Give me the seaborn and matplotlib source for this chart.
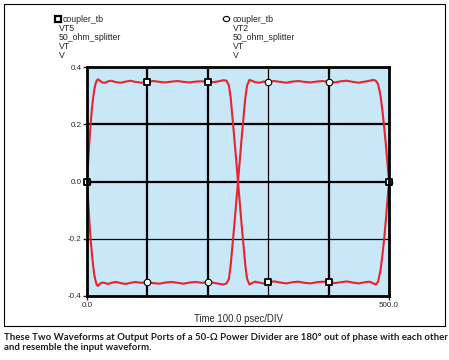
import numpy as np
import pandas as pd
import seaborn as sns
import matplotlib.pyplot as plt
from matplotlib.patches import Rectangle

# waveform samples (time in psec, volts)
t = [0, 2, 4, 6, 8, 10, 12, 14, 16, 18, 21, 25, 30, 35, 40, 48, 56, 64, 72, 80,
     90, 100, 110, 120, 130, 140, 150, 160, 170, 180, 190, 200, 210, 218, 226,
     231, 235, 238, 241, 244, 247, 250, 253, 256, 259, 262, 265, 269, 273, 278,
     285, 292, 300, 310, 320, 330, 340, 350, 360, 370, 380, 390, 400, 410, 420,
     430, 440, 450, 460, 468, 474, 478, 482, 486, 489, 492, 495, 498, 500]

vt5 = [0.0, 0.07, 0.14, 0.2, 0.25, 0.29, 0.32, 0.34, 0.352, 0.357, 0.353, 0.346,
       0.345, 0.350, 0.352, 0.347, 0.345, 0.349, 0.352, 0.348, 0.345, 0.348,
       0.351, 0.348, 0.346, 0.349, 0.351, 0.348, 0.346, 0.349, 0.350, 0.348,
       0.347, 0.350, 0.354, 0.352, 0.335, 0.29, 0.22, 0.15, 0.075, 0.0, -0.075,
       -0.15, -0.22, -0.29, -0.34, -0.36, -0.355, -0.35, -0.353, -0.356, -0.352,
       -0.349, -0.353, -0.356, -0.352, -0.35, -0.354, -0.356, -0.352, -0.35,
       -0.352, -0.355, -0.352, -0.349, -0.353, -0.356, -0.352, -0.35, -0.356,
       -0.36, -0.35, -0.31, -0.26, -0.2, -0.13, -0.05, 0.0]

vt2 = [0.0, -0.07, -0.14, -0.2, -0.25, -0.29, -0.325, -0.345, -0.36, -0.365,
       -0.358, -0.353, -0.355, -0.358, -0.354, -0.351, -0.355, -0.358, -0.354,
       -0.351, -0.354, -0.352, -0.355, -0.357, -0.353, -0.351, -0.354, -0.357,
       -0.353, -0.351, -0.354, -0.352, -0.354, -0.357, -0.36, -0.356, -0.34,
       -0.29, -0.22, -0.15, -0.075, 0.0, 0.075, 0.15, 0.22, 0.29, 0.335, 0.355,
       0.352, 0.347, 0.345, 0.349, 0.348, 0.351, 0.348, 0.345, 0.349, 0.351,
       0.348, 0.346, 0.349, 0.351, 0.348, 0.346, 0.35, 0.352, 0.348, 0.345,
       0.349, 0.352, 0.355, 0.352, 0.34, 0.3, 0.25, 0.19, 0.125, 0.05, 0.0]

mark_t = [0, 100, 200, 300, 400, 500]
vt5_mark = [0.0, 0.348, 0.348, -0.352, -0.352, 0.0]
vt2_mark = [0.0, -0.352, -0.352, 0.348, 0.348, 0.0]

legend_lines = ["coupler_tb", "VT5", "50_ohm_splitter", "VT", "V"]
legend_lines2 = ["coupler_tb", "VT2", "50_ohm_splitter", "VT", "V"]

sns.set_style("white")
plt.rcParams['font.family'] = ['Liberation Sans', 'DejaVu Sans']

df = pd.DataFrame({'t': t * 2, 'v': vt5 + vt2,
                   'sig': ['VT5'] * len(t) + ['VT2'] * len(t)})

fig = plt.figure(figsize=(4.49, 3.6), dpi=100)
ax = fig.add_axes([87/449, 1 - 296/360, 302/449, 229/360])
ax.set_facecolor('#c8e7f7')

# grid
for x, lw in zip([100, 200, 300, 400], [1.6, 1.6, 0.9, 1.6]):
    ax.axvline(x, color='black', lw=lw, zorder=1)
for y, lw in zip([0.2, 0.0, -0.2], [1.6, 1.6, 0.9]):
    ax.axhline(y, color='black', lw=lw, zorder=1)

sns.lineplot(data=df, x='t', y='v', hue='sig', units='sig', estimator=None,
             sort=False, palette=['#e3262d', '#e3262d'], linewidth=1.5,
             legend=False, ax=ax, zorder=3)

ax.scatter(mark_t, vt2_mark, marker='o', s=22, facecolor='white',
           edgecolor='black', linewidth=0.8, zorder=5, clip_on=False)
ax.scatter(mark_t, vt5_mark, marker='s', s=18, facecolor='white',
           edgecolor='black', linewidth=1.3, zorder=6, clip_on=False)

ax.set_xlim(0, 500)
ax.set_ylim(-0.4, 0.4)
ax.set_xticks([0, 500])
ax.set_xticklabels(['0.0', '500.0'])
ax.set_yticks([0.4, 0.2, 0.0, -0.2, -0.4])
ax.set_yticklabels(['0.4', '0.2', '0.0', '-0.2', '-0.4'])
ax.tick_params(axis='both', direction='out', length=3, width=1, labelsize=5.8,
               pad=1, left=True, bottom=True)
for s in ax.spines.values():
    s.set_linewidth(2.0)
    s.set_color('black')
    s.set_zorder(7)
ax.set_xlabel('Time 100.0 psec/DIV', fontsize=6.9, labelpad=4)
ax.set_ylabel('')

# legend blocks above the plot
for i, txt in enumerate(legend_lines):
    x0 = 63 if i == 0 else 59
    fig.text(x0/449, 1 - (19 + i * 9.1)/360, txt, fontsize=6.3,
             va='center', ha='left')
for i, txt in enumerate(legend_lines2):
    fig.text(232.5/449, 1 - (19 + i * 9.1)/360, txt, fontsize=6.3,
             va='center', ha='left')
fig.add_artist(Rectangle((55/449, 1 - 22/360), 6/449, 6/360, facecolor='white',
                         edgecolor='black', lw=1.6, transform=fig.transFigure))
fig.add_artist(plt.Circle((226.5/449, 1 - 19/360), 3.2/449, facecolor='white',
                          edgecolor='black', lw=0.8, transform=fig.transFigure))

# outer frame
fig.add_artist(Rectangle((4/449, 1 - 326/360), 441/449, 322/360, fill=False,
                         edgecolor='black', lw=0.8, transform=fig.transFigure))

fig.text(4/449, 1 - 342.5/360,
         'These Two Waveforms at Output Ports of a 50-\u03a9 Power Divider are 180\u00b0 out of phase with each other\nand resemble the input waveform.',
         fontsize=6.92, fontweight='bold', color='#231f20', ha='left', va='center',
         family=['Lato', 'DejaVu Sans'], linespacing=1.1)

fig.savefig('out.png', dpi=100)
